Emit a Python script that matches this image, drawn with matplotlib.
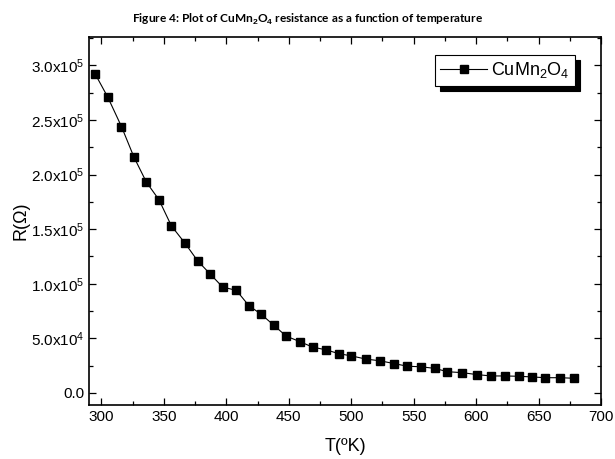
import matplotlib
matplotlib.use("Agg")
import matplotlib.pyplot as plt
from matplotlib.ticker import MultipleLocator, FuncFormatter

# Data
temperature = [295, 305, 316, 326, 336, 346, 356, 367, 377, 387, 397, 408, 418,
               428, 438, 448, 459, 469, 480, 490, 500, 512, 523, 534, 545, 556,
               567, 577, 589, 601, 612, 623, 634, 645, 655, 667, 678]
resistance = [292000, 271000, 244000, 216000, 193000, 177000, 153000, 137000,
              121000, 109000, 97000, 94000, 80000, 72000, 62000, 52000, 47000,
              42000, 39500, 36000, 34000, 31000, 29500, 27000, 24500, 24000,
              22500, 19500, 18600, 16800, 15600, 15600, 15300, 14700, 14000,
              14000, 13500]
series_label = "CuMn$_2$O$_4$"
title_text = "Figure 4: Plot of CuMn$_\\mathbf{2}$O$_\\mathbf{4}$ resistance as a function of temperature"
x_label = "T(ºK)"
y_label = "R(Ω)"

plt.rcParams['font.family'] = ['Liberation Sans', 'DejaVu Sans']
plt.rcParams['mathtext.fontset'] = 'custom'
plt.rcParams['mathtext.rm'] = 'Liberation Sans'
plt.rcParams['mathtext.it'] = 'Liberation Sans'
plt.rcParams['mathtext.bf'] = 'Liberation Sans:bold'

fig = plt.figure(figsize=(6.15, 4.59), dpi=100)
W, H = 615, 459
left, right, top, bottom = 89, 601, 37, 405
ax = fig.add_axes([left / W, 1 - bottom / H, (right - left) / W, (bottom - top) / H])

ax.plot(temperature, resistance, color='black', linewidth=0.8, marker='s',
        markersize=6.0, markerfacecolor='black', markeredgecolor='black',
        label=series_label)

ax.set_xlim(290, 700)
ax.set_ylim(-11000, 326000)
ax.xaxis.set_major_locator(MultipleLocator(50))
ax.xaxis.set_minor_locator(MultipleLocator(25))
ax.yaxis.set_major_locator(MultipleLocator(50000))
ax.yaxis.set_minor_locator(MultipleLocator(25000))


def yfmt(v, pos):
    if abs(v) < 1e-9:
        return "0.0"
    exp = 0
    m = v
    while abs(m) >= 10:
        m /= 10
        exp += 1
    return f"{m:.1f}x10$^{{{exp}}}$"


ax.yaxis.set_major_formatter(FuncFormatter(yfmt))
ax.tick_params(which='both', direction='in', top=True, right=True,
               labelsize=11, colors='black')
ax.tick_params(which='major', length=5, width=0.9)
ax.tick_params(which='minor', length=3, width=0.9)
for s in ax.spines.values():
    s.set_linewidth(1.2)

ax.set_xlabel(x_label, fontsize=13, labelpad=10)
ax.set_ylabel(y_label, fontsize=13, labelpad=1)

leg = ax.legend(loc='upper right', bbox_to_anchor=(0.949, 0.951), fontsize=13,
                frameon=True, fancybox=False, numpoints=1, handlelength=2.6,
                handletextpad=0.2, borderpad=0.3, borderaxespad=0,
                shadow={'ox': 3.5, 'oy': -3.5, 'color': 'black', 'alpha': 1})
leg.get_frame().set_edgecolor('black')
leg.get_frame().set_linewidth(0.8)

fig.text(0.5, 1 - 19 / H, title_text, ha='center', va='center',
         fontsize=8.6, fontweight='bold', family=['Lato', 'DejaVu Sans'])

fig.savefig("out.png", dpi=100)
